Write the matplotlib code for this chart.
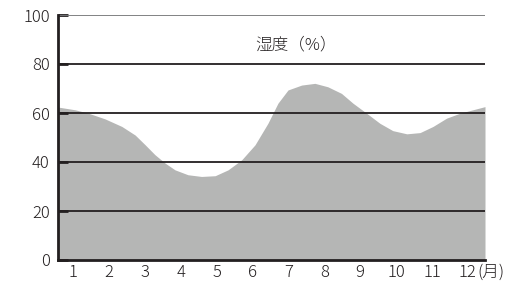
import matplotlib.pyplot as plt
import numpy as np

plt.rcParams['font.family'] = ['Noto Sans CJK JP', 'DejaVu Sans']

# ============================
# Data
# ============================
months = [0.59, 1.06, 1.43, 1.89, 2.36, 2.73, 3.01, 3.28, 3.56, 3.84, 4.20, 4.58,
          4.96, 5.32, 5.70, 6.07, 6.43, 6.71, 6.99, 7.37, 7.74, 8.10, 8.48, 8.80,
          9.18, 9.55, 9.91, 10.30, 10.67, 11.03, 11.41, 11.78, 12.14, 12.48]
humidity = [62.4, 61.3, 59.9, 57.6, 54.5, 51.0, 47.0, 43.0, 39.6, 36.8, 34.8, 34.1,
            34.4, 36.8, 40.9, 47.0, 55.8, 64.0, 69.4, 71.4, 72.1, 70.7, 68.0, 64.0,
            59.9, 55.8, 52.8, 51.5, 52.0, 54.5, 57.9, 59.9, 61.3, 62.6]
month_ticks = list(range(1, 13))
month_labels = [str(m) for m in month_ticks]
y_ticks = [0, 20, 40, 60, 80, 100]

ink = "#231f20"
fill_col = "#b5b6b5"

fig = plt.figure(figsize=(5.14, 2.83), dpi=100)
ax = fig.add_axes([58/514, 23/283, 427/514, 245/283])

ax.fill_between(months, humidity, 0, color=fill_col, lw=0, zorder=1)

# gridlines over the fill
for y in y_ticks[1:]:
    c = "#77787a" if y == 100 else ink
    ax.axhline(y, color=c, lw=1.3, zorder=2)

ax.set_xlim(0.58, 12.48)
ax.set_ylim(0, 100)

ax.set_yticks(y_ticks)
ax.set_xticks(month_ticks)
ax.set_xticklabels(month_labels)
ax.tick_params(axis='y', direction='in', length=7, width=2, color=ink,
               labelsize=12, labelcolor=ink, pad=6)
ax.tick_params(axis='x', length=0, labelsize=12, labelcolor=ink, pad=3)
for lab in ax.get_xticklabels() + ax.get_yticklabels():
    lab.set_fontweight('light')

for s in ["top", "right"]:
    ax.spines[s].set_visible(False)
for s in ["left", "bottom"]:
    ax.spines[s].set_color(ink)
    ax.spines[s].set_linewidth(2)
    ax.spines[s].set_zorder(3)

# unit label next to 12
ax.annotate("(月)", xy=(12, 0), xycoords="data", xytext=(7, -3),
            textcoords="offset points", ha="left", va="top",
            fontsize=12, color=ink, fontweight='light', annotation_clip=False)

ax.text(0.557, 0.877, "湿度（%）", transform=ax.transAxes, ha="center",
        va="center", fontsize=12, color=ink, fontweight='light')

fig.savefig("out.png", dpi=100)
